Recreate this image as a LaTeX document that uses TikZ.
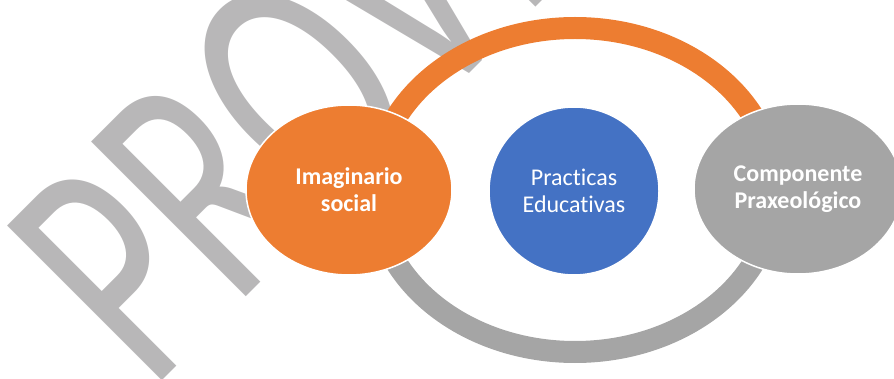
\documentclass[tikz,border=0pt]{standalone}
\usepackage{fontspec}
\setmainfont[Ligatures=NoCommon]{Carlito}
\usetikzlibrary{shapes.geometric}
\definecolor{orng}{HTML}{ED7D31}
\definecolor{blu}{HTML}{4472C4}
\definecolor{gry}{HTML}{A5A5A5}
\definecolor{wmark}{HTML}{B8B7B8}
\begin{document}
\begin{tikzpicture}[x=1pt,y=1pt,
  bubble/.style={ellipse, draw=white, line width=1.5pt, inner sep=0pt, text=white, align=center},
  boldtext/.style={font=\bfseries\fontsize{24}{27}\selectfont},
  plaintext/.style={font=\fontsize{24}{27}\selectfont},
  ringband/.style={line width=22pt}]
\useasboundingbox (0,0) rectangle (894,-379);
\clip (0,0) rectangle (894,-379);
% watermark
\begin{scope}[shift={(150,-393)}, rotate=45, yscale=1.47]
  \node[anchor=base west, inner sep=0pt, text=wmark, font=\fontsize{232}{232}\selectfont, transform shape] (wm) at (0,0) {PROVISIONAL};
\end{scope}
% ring
\coordinate (rc) at (575,-190);
\draw[ringband, gry] (rc) ++(-200,0) arc[start angle=180, end angle=360, x radius=200, y radius=162];
\draw[ringband, orng] (rc) ++(200,0) arc[start angle=0, end angle=180, x radius=200, y radius=162];
% bubbles
\node[bubble, boldtext, fill=orng, minimum width=206pt, minimum height=170pt] (imag) at (349,-190) {Imaginario\\social};
\node[bubble, plaintext, fill=blu, minimum width=170pt, minimum height=168pt] (prac) at (574,-191) {Practicas\\Educativas};
\node[bubble, boldtext, fill=gry, minimum width=208pt, minimum height=170pt] (comp) at (798,-189) {Componente\\Praxeológico};
\end{tikzpicture}
\end{document}
